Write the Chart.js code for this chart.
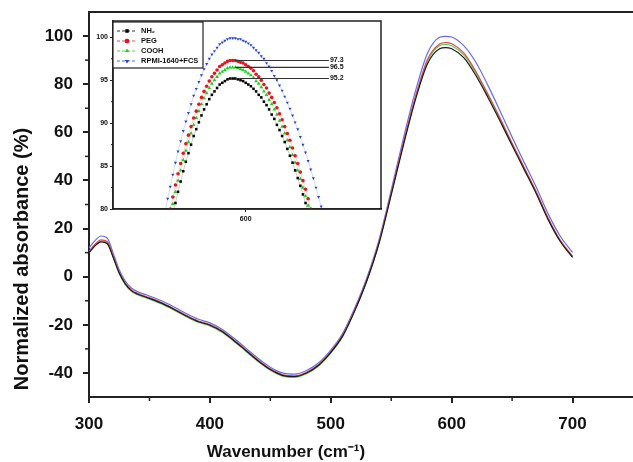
<!DOCTYPE html>
<html>
<head>
<meta charset="utf-8">
<script src="https://cdn.jsdelivr.net/npm/chart.js@4.4.0/dist/chart.umd.min.js"></script>
<style>
    body { margin: 0; background: #fff; }
    #wrap { position: relative; width: 633px; height: 462px; }
    #chartMain { position: absolute; left: 0; top: 0; }
    #chartInset { position: absolute; left: 95px; top: 15px; }
</style>
</head>
<body>
<div id="wrap">
    <canvas id="chartMain" width="633" height="462"></canvas>
    <canvas id="chartInset" width="294" height="210"></canvas>
</div>
<script>
// series names
var seriesNames = ['NH\u2082', 'PEG', 'COOH', 'RPMI-1640+FCS'];

// main spectrum
var wavenumbers = [300, 305, 310, 315, 320, 325, 330, 335, 340, 350, 360, 370, 380, 390, 400, 410, 420, 430, 440, 450,
    460, 470, 480, 490, 500, 510, 520, 530, 540, 550, 560, 570, 580, 590, 595, 600, 610, 620, 630, 640, 650, 660, 670, 680, 690, 700];
var absNH2 = [10.0, 12.8, 14.5, 13.8, 8.0, 1.5, -3.0, -5.8, -7.2, -9.0, -11.0, -13.5, -16.2, -18.6, -20.2, -22.8, -26.6, -30.8, -35.0, -38.6,
    -41.0, -41.5, -40.0, -36.8, -31.5, -24.5, -14.0, -1.5, 14.0, 34.0, 54.5, 73.5, 88.5, 94.7, 95.2, 94.7, 91.0, 83.6, 74.5, 64.7, 54.5, 44.5, 34.5, 23.5, 14.5, 8.0];
var absPEG = [10.5, 13.5, 15.3, 14.6, 8.6, 1.9, -2.7, -5.5, -6.9, -8.7, -10.7, -13.2, -15.9, -18.3, -19.9, -22.5, -26.3, -30.5, -34.7, -38.3,
    -40.7, -41.2, -39.7, -36.5, -31.2, -24.2, -13.6, -1.1, 14.5, 34.7, 55.5, 74.8, 90.3, 96.7, 97.3, 96.8, 93.0, 85.3, 75.9, 65.9, 55.5, 45.4, 35.3, 24.2, 15.1, 8.6];
var absCOOH = [10.2, 13.1, 14.9, 14.2, 8.2, 1.2, -3.3, -6.1, -7.5, -9.3, -11.3, -13.8, -16.5, -18.9, -20.5, -23.1, -26.9, -31.1, -35.3, -38.9,
    -41.3, -41.8, -40.3, -37.1, -31.8, -24.7, -14.0, -1.4, 14.3, 34.4, 55.1, 74.3, 89.6, 96.0, 96.5, 96.0, 92.2, 84.6, 75.3, 65.4, 55.1, 45.0, 34.9, 23.8, 14.7, 8.1];
var absRPMI = [12.0, 15.0, 16.9, 16.1, 9.8, 2.9, -1.8, -4.7, -6.2, -8.0, -10.0, -12.5, -15.2, -17.6, -19.2, -21.8, -25.6, -29.8, -34.0, -37.6,
    -40.0, -40.5, -39.0, -35.8, -30.5, -23.4, -12.8, -0.2, 15.5, 36.0, 57.3, 77.1, 92.9, 99.5, 99.9, 99.6, 96.0, 89.1, 79.5, 68.9, 58.0, 47.5, 37.2, 25.9, 16.7, 10.1];

var xTicks = [300, 400, 500, 600, 700];
var xMinor = [350, 450, 550, 650];
var yTicks = [-40, -20, 0, 20, 40, 60, 80, 100];
var yMinor = [-30, -10, 10, 30, 50, 70, 90];

// inset (peak zoom)
var peakX = [569, 570, 571, 572, 573, 574, 575, 576, 577, 578, 579, 580, 581, 582, 583, 584, 585, 586, 587, 588, 589, 590,
    591, 592, 593, 594, 595, 596, 597, 598, 599, 600, 601, 602, 603, 604, 605, 606, 607, 608, 609, 610,
    611, 612, 613, 614, 615, 616, 617, 618, 619, 620, 621, 622, 623, 624, 625, 626, 627, 628, 629, 630, 631];
var peakNH2 = [74.9, 76.5, 77.9, 79.3, 80.7, 82.0, 83.2, 84.4, 85.5, 86.5, 87.5, 88.5, 89.3, 90.1, 90.9, 91.6, 92.2, 92.8, 93.3, 93.7, 94.1, 94.5,
    94.7, 94.9, 95.1, 95.2, 95.2, 95.2, 95.1, 95.0, 94.9, 94.7, 94.5, 94.3, 94.0, 93.7, 93.3, 93.0, 92.5, 92.1, 91.6, 91.0,
    90.5, 89.8, 89.2, 88.5, 87.8, 87.0, 86.2, 85.4, 84.5, 83.6, 82.7, 81.7, 80.7, 79.6, 78.5, 77.4, 76.2, 75.0, 73.8, 72.5, 71.2];
var peakPEG = [77.0, 78.6, 80.0, 81.4, 82.8, 84.1, 85.3, 86.5, 87.6, 88.6, 89.6, 90.6, 91.4, 92.2, 93.0, 93.7, 94.3, 94.9, 95.4, 95.8, 96.2, 96.6,
    96.8, 97.0, 97.2, 97.3, 97.3, 97.3, 97.2, 97.1, 97.0, 96.8, 96.6, 96.4, 96.1, 95.7, 95.4, 95.0, 94.5, 94.1, 93.5, 93.0,
    92.4, 91.8, 91.1, 90.4, 89.6, 88.8, 88.0, 87.1, 86.2, 85.3, 84.3, 83.3, 82.3, 81.2, 80.0, 78.9, 77.6, 76.4, 75.1, 73.8, 72.4];
var peakCOOH = [76.2, 77.8, 79.2, 80.6, 82.0, 83.3, 84.5, 85.7, 86.8, 87.8, 88.8, 89.8, 90.6, 91.4, 92.2, 92.9, 93.5, 94.1, 94.6, 95.0, 95.4, 95.8,
    96.0, 96.2, 96.4, 96.5, 96.5, 96.5, 96.4, 96.3, 96.2, 96.0, 95.8, 95.6, 95.3, 94.9, 94.6, 94.2, 93.7, 93.3, 92.7, 92.2,
    91.6, 91.0, 90.3, 89.6, 88.8, 88.0, 87.2, 86.3, 85.4, 84.5, 83.5, 82.5, 81.5, 80.4, 79.2, 78.1, 76.8, 75.6, 74.3, 73.0, 71.6];
var peakRPMI = [79.6, 81.2, 82.6, 84.0, 85.4, 86.7, 87.9, 89.1, 90.2, 91.2, 92.2, 93.2, 94.0, 94.8, 95.6, 96.3, 96.9, 97.5, 98.0, 98.4, 98.8, 99.2,
    99.4, 99.6, 99.8, 99.9, 99.9, 99.9, 99.8, 99.8, 99.6, 99.5, 99.3, 99.1, 98.8, 98.5, 98.2, 97.8, 97.5, 97.0, 96.6, 96.1,
    95.5, 95.0, 94.4, 93.8, 93.1, 92.4, 91.7, 90.9, 90.1, 89.3, 88.4, 87.5, 86.6, 85.6, 84.6, 83.6, 82.5, 81.4, 80.3, 79.1, 77.9];

var insetXTicks = [600];
var insetYTicks = [80, 85, 90, 95, 100];
var insetYMinor = [82.5, 87.5, 92.5, 97.5];
var peakLabels = ['97.3', '96.5', '95.2'];
var peakLabelValues = [97.3, 96.5, 95.2];

var FONT = "'Liberation Sans', Arial, sans-serif";
var lineColors = ['#1a1a1a', '#e04848', '#5ccc5c', '#6a6af0'];
var markColors = ['#000000', '#e8141e', '#22cc22', '#2244dd'];
var markStyles = ['rect', 'circle', 'triangle', 'triangle'];
var markRot = [0, 0, 0, 180];

function pts(xs, ys) {
    return xs.map(function (x, i) { return { x: x, y: ys[i] }; });
}

// ---- main chart ----
var mainSets = [absNH2, absPEG, absCOOH, absRPMI].map(function (arr, i) {
    return {
        label: seriesNames[i],
        data: pts(wavenumbers, arr),
        borderColor: lineColors[i],
        borderWidth: 1.2,
        pointRadius: 0,
        cubicInterpolationMode: 'monotone',
        fill: false
    };
});

var mainDecor = {
    id: 'mainDecor',
    afterDraw: function (chart) {
        var ctx = chart.ctx, a = chart.chartArea, sx = chart.scales.x, sy = chart.scales.y;
        ctx.save();
        ctx.strokeStyle = '#222';
        ctx.lineWidth = 1.5;
        xMinor.forEach(function (v) {
            var px = sx.getPixelForValue(v);
            ctx.beginPath(); ctx.moveTo(px, a.bottom); ctx.lineTo(px, a.bottom + 4); ctx.stroke();
        });
        yMinor.forEach(function (v) {
            var py = sy.getPixelForValue(v);
            ctx.beginPath(); ctx.moveTo(a.left, py); ctx.lineTo(a.left - 4, py); ctx.stroke();
        });
        ctx.lineWidth = 2;
        ctx.beginPath(); ctx.moveTo(a.left - 1, a.top); ctx.lineTo(a.right, a.top); ctx.stroke();

        ctx.fillStyle = '#111';
        ctx.font = 'bold 17px ' + FONT;
        ctx.textAlign = 'center';
        ctx.textBaseline = 'middle';
        ctx.fillText('Wavenumber (cm\u207B\u00B9)', 286, 452);
        ctx.translate(22, 259);
        ctx.rotate(-Math.PI / 2);
        ctx.font = 'bold 20px ' + FONT;
        ctx.fillText('Normalized absorbance (%)', 0, 0);
        ctx.restore();
    }
};

new Chart(document.getElementById('chartMain').getContext('2d'), {
    type: 'line',
    data: { datasets: mainSets },
    options: {
        responsive: false,
        animation: false,
        layout: { padding: { top: 12, left: 0, right: 0, bottom: 0 } },
        plugins: { legend: { display: false }, tooltip: { enabled: false } },
        scales: {
            x: {
                type: 'linear', min: 300, max: 750,
                afterBuildTicks: function (s) { s.ticks = xTicks.map(function (v) { return { value: v }; }); },
                afterFit: function (s) { s.height = 65; s.paddingLeft = 0; s.paddingRight = 0; },
                grid: { drawOnChartArea: false, drawTicks: true, tickLength: 6, color: '#222', lineWidth: 2 },
                border: { display: true, color: '#222', width: 2 },
                ticks: { color: '#111', padding: 11, maxRotation: 0, font: { family: FONT, size: 17, weight: 'bold' } }
            },
            y: {
                type: 'linear', min: -50, max: 110,
                afterBuildTicks: function (s) { s.ticks = yTicks.map(function (v) { return { value: v }; }); },
                afterFit: function (s) { s.width = 89; s.paddingTop = 0; s.paddingBottom = 0; },
                grid: { drawOnChartArea: false, drawTicks: true, tickLength: 6, color: '#222', lineWidth: 2 },
                border: { display: true, color: '#222', width: 2 },
                ticks: { color: '#111', padding: 10, font: { family: FONT, size: 17, weight: 'bold' } }
            }
        }
    },
    plugins: [mainDecor]
});

// ---- inset chart ----
var insetSets = [peakNH2, peakPEG, peakCOOH, peakRPMI].map(function (arr, i) {
    return {
        label: seriesNames[i],
        data: pts(peakX, arr),
        borderColor: markColors[i] + '55',
        borderWidth: 0.6,
        pointStyle: markStyles[i],
        pointRotation: markRot[i],
        pointRadius: i === 2 ? 2.2 : 1.8,
        pointBackgroundColor: markColors[i],
        pointBorderWidth: 0,
        fill: false
    };
});

var insetDecor = {
    id: 'insetDecor',
    beforeDraw: function (chart) {
        var ctx = chart.ctx, a = chart.chartArea;
        ctx.save();
        ctx.fillStyle = '#fff';
        ctx.fillRect(0, 0, a.right + 1, chart.height);
        ctx.restore();
    },
    afterDraw: function (chart) {
        var ctx = chart.ctx, a = chart.chartArea, sx = chart.scales.x, sy = chart.scales.y;
        ctx.save();
        ctx.strokeStyle = '#222';
        ctx.lineWidth = 1.5;
        ctx.strokeRect(a.left, a.top, a.right - a.left, a.bottom - a.top);
        ctx.lineWidth = 1;
        insetYMinor.forEach(function (v) {
            var py = sy.getPixelForValue(v);
            ctx.beginPath(); ctx.moveTo(a.left, py); ctx.lineTo(a.left - 2, py); ctx.stroke();
        });

        // peak value marks
        ctx.strokeStyle = '#333';
        ctx.lineWidth = 1.2;
        ctx.fillStyle = '#111';
        ctx.font = 'bold 7px ' + FONT;
        ctx.textAlign = 'left';
        ctx.textBaseline = 'middle';
        peakLabelValues.forEach(function (v, i) {
            var py = sy.getPixelForValue(v);
            var x0 = sx.getPixelForValue(596);
            var x1 = sx.getPixelForValue(632);
            ctx.beginPath(); ctx.moveTo(x0, py); ctx.lineTo(x1, py); ctx.stroke();
            ctx.fillText(peakLabels[i], x1 + 1, py);
        });

        // legend box
        var bx = a.left, by = a.top + 1, bw = 90, bh = 46;
        ctx.fillStyle = '#fff';
        ctx.fillRect(bx, by, bw, bh);
        ctx.strokeStyle = '#222';
        ctx.lineWidth = 1.2;
        ctx.strokeRect(bx, by, bw, bh);
        ctx.font = 'bold 7.5px ' + FONT;
        chart.data.datasets.forEach(function (ds, i) {
            var ly = by + 9 + i * 10;
            ctx.strokeStyle = markColors[i];
            ctx.lineWidth = 0.8;
            ctx.setLineDash([3, 2]);
            ctx.beginPath(); ctx.moveTo(bx + 4, ly); ctx.lineTo(bx + 24, ly); ctx.stroke();
            ctx.setLineDash([]);
            ctx.fillStyle = markColors[i];
            Chart.helpers.drawPoint(ctx, {
                pointStyle: markStyles[i], rotation: markRot[i], radius: 2.2, borderWidth: 0
            }, bx + 14, ly);
            ctx.fill();
            ctx.fillStyle = '#111';
            ctx.fillText(ds.label, bx + 28, ly);
        });
        ctx.restore();
    }
};

new Chart(document.getElementById('chartInset').getContext('2d'), {
    type: 'line',
    data: { datasets: insetSets },
    options: {
        responsive: false,
        animation: false,
        layout: { padding: { top: 6, left: 0, right: 8, bottom: 0 } },
        plugins: { legend: { display: false }, tooltip: { enabled: false } },
        scales: {
            x: {
                type: 'linear', min: 549, max: 652,
                afterBuildTicks: function (s) { s.ticks = insetXTicks.map(function (v) { return { value: v }; }); },
                afterFit: function (s) { s.height = 16; s.paddingLeft = 0; s.paddingRight = 0; },
                grid: { drawOnChartArea: false, drawTicks: true, tickLength: 3, color: '#222', lineWidth: 1 },
                border: { display: true, color: '#222', width: 1.5 },
                ticks: { color: '#111', padding: 3, maxRotation: 0, font: { family: FONT, size: 7, weight: 'bold' } }
            },
            y: {
                type: 'linear', min: 80, max: 101.9,
                afterBuildTicks: function (s) { s.ticks = insetYTicks.map(function (v) { return { value: v }; }); },
                afterFit: function (s) { s.width = 18; s.paddingTop = 0; s.paddingBottom = 0; },
                grid: { drawOnChartArea: false, drawTicks: true, tickLength: 3, color: '#222', lineWidth: 1 },
                border: { display: true, color: '#222', width: 1.5 },
                ticks: { color: '#111', padding: 2, font: { family: FONT, size: 7, weight: 'bold' } }
            }
        }
    },
    plugins: [insetDecor]
});
</script>
</body>
</html>
